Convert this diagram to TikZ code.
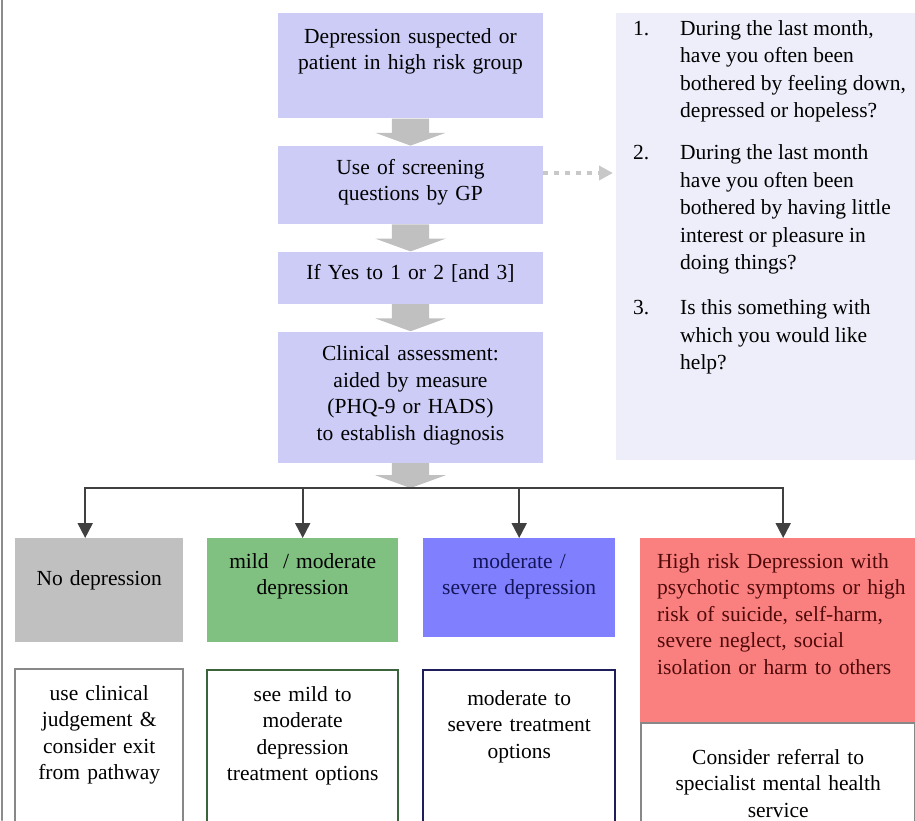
\documentclass[tikz,border=0pt]{standalone}
\usepackage{fontspec}
\setmainfont{Liberation Serif}
\usetikzlibrary{positioning, shapes.arrows, arrows.meta}
\definecolor{lavbox}{RGB}{204,204,247}
\definecolor{qback}{RGB}{238,238,250}
\definecolor{arrowgrey}{RGB}{192,192,192}
\definecolor{dotgrey}{RGB}{200,200,200}
\definecolor{nogrey}{RGB}{192,192,192}
\definecolor{mildgreen}{RGB}{128,192,128}
\definecolor{sevblue}{RGB}{128,128,255}
\definecolor{highred}{RGB}{250,128,128}
\definecolor{linegrey}{RGB}{64,64,64}
\definecolor{framegrey}{RGB}{140,140,140}
\definecolor{greyedge}{RGB}{136,136,136}
\definecolor{greenedge}{RGB}{60,100,60}
\definecolor{blueedge}{RGB}{30,30,90}
\definecolor{navytext}{RGB}{20,20,90}
\definecolor{redtext}{RGB}{80,10,10}
\newcommand{\flowfont}{\fontsize{21.5}{26.5}\selectfont}

\begin{document}
\begin{tikzpicture}[x=1pt, y=-1pt, line cap=round, font=\flowfont,
    stepbox/.style={fill=lavbox, inner sep=0pt, align=center, anchor=north, text width=265pt},
    downarrow/.style={single arrow, fill=arrowgrey, draw=none, inner xsep=0pt, inner ysep=18.5pt,
      single arrow head extend=16.5pt, single arrow tip angle=140,
      minimum height=27pt, rotate=-90, anchor=tail},
    outcome/.style={inner sep=0pt, align=center, anchor=north west},
    advice/.style={fill=white, line width=1.5pt, inner sep=0pt, align=center},
    branch/.style={draw=linegrey, line width=2pt, -{Triangle[width=15pt,length=15pt]}},
    dotlink/.style={draw=dotgrey, line width=4pt, line cap=butt, dash pattern=on 5pt off 6pt,
      -{Triangle[width=14pt,length=14pt]}, shorten >=3pt}]
    \useasboundingbox (0,0) rectangle (915,820);
    \clip (0,0) rectangle (915,820);
    % frame on the left
    \draw[framegrey, line width=2pt] (2,0) -- (2,820);

    % screening steps
    \node[stepbox, text height=30pt, text depth=75pt] (suspect) at (410.5,13) {Depression suspected or\\patient in high risk group};
    \node[downarrow] (a1) at (suspect.south) {};
    \node[stepbox, text height=28pt, text depth=50pt] (screen) at (a1.tip) {Use of screening\\questions by GP};
    \node[downarrow] (a2) at (screen.south) {};
    \node[stepbox, text height=28pt, text depth=24pt] (yes) at (a2.tip) {If Yes to 1 or 2 [and 3]};
    \node[downarrow] (a3) at (yes.south) {};
    \node[stepbox, text height=29pt, text depth=102pt] (assess) at (a3.tip) {Clinical assessment:\\aided by measure\\(PHQ-9 or HADS)\\to establish diagnosis};
    \node[downarrow, minimum height=25pt] (a4) at (assess.south) {};

    % screening questions
    \node[fill=qback, minimum width=300pt, minimum height=447pt, inner sep=0pt, anchor=north west] (questions) at (616,13) {};
    \node[anchor=base west, inner sep=0pt, font=\fontsize{21.5}{27.5}\selectfont] (qlist) at (633,35) {%
      \begin{tabular}[t]{@{}p{47pt}@{}l@{}}
        1. & During the last month,\\
           & have you often been\\
           & bothered by feeling down,\\
           & depressed or hopeless?\\[14.5pt]
        2. & During the last month\\
           & have you often been\\
           & bothered by having little\\
           & interest or pleasure in\\
           & doing things?\\[17.5pt]
        3. & Is this something with\\
           & which you would like\\
           & help?
      \end{tabular}};
    \draw[dotlink] ([yshift=12pt]screen.east) -- ([yshift=12pt]screen.east -| questions.west);

    % outcomes
    \node[outcome, fill=nogrey, text width=168pt, text height=47pt, text depth=57pt] (nodep) at (15,538) {No depression};
    \node[outcome, fill=mildgreen, text width=191pt, text height=30pt, text depth=74pt] (mild) at (207,538) {mild\ \ / moderate\\depression};
    \node[outcome, fill=sevblue, text=navytext, text width=192pt, text height=30pt, text depth=69pt] (severe) at (423,538) {moderate /\\severe depression};
    \node[outcome, fill=highred, text=redtext, align=left, text width=276pt, text height=30pt, text depth=154pt] (highrisk) at (640,538) {\leftskip=17pt High risk Depression with\\psychotic symptoms or high\\risk of suicide, self-harm,\\severe neglect, social\\isolation or harm to others\par};

    \coordinate (split) at (a4.tip);
    \draw[branch] (split) -| ([xshift=-14pt]nodep.north);
    \draw[branch] (split) -| (mild.north);
    \draw[branch] (split) -| (severe.north);
    \draw[branch] (split) -| ([xshift=5pt]highrisk.north);

    % what to do next
    \node[advice, draw=greyedge, text width=168pt, text height=31pt, text depth=150pt, below=26pt of nodep] (exitbox) {use clinical\\judgement \&\\consider exit\\from pathway};
    \node[advice, draw=greenedge, text width=191pt, text height=31pt, text depth=150pt, below=27pt of mild] (mildopt) {see mild to\\moderate\\depression\\treatment options};
    \node[advice, draw=blueedge, text width=192pt, text height=35pt, text depth=150pt, below=32pt of severe] (sevopt) {moderate to\\severe treatment\\options};
    \node[advice, draw=greyedge, text width=274pt, text height=41pt, text depth=120pt, below=0pt of highrisk] (referral) {Consider referral to\\specialist mental health\\service};
\end{tikzpicture}
\end{document}
